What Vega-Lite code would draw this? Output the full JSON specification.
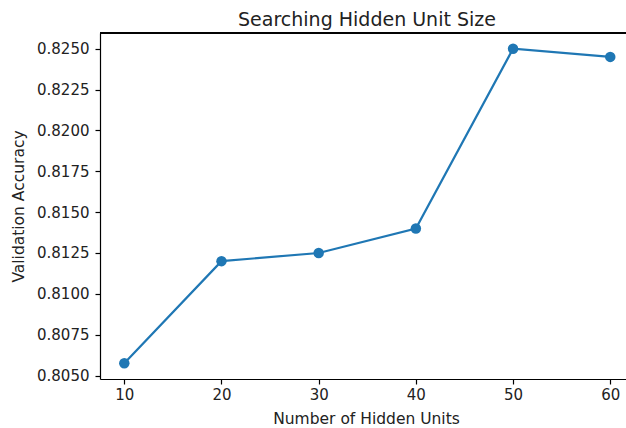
{
  "$schema": "https://vega.github.io/schema/vega-lite/v6.json",
  "autosize": {"type": "none"},
  "width": 526,
  "height": 346,
  "padding": {"left": 100, "top": 33, "right": 0, "bottom": 49},
  "background": "white",
  "config": {
    "view": {"stroke": null},
    "font": "DejaVu Sans",
    "axis": {
      "grid": false,
      "domainColor": "black",
      "domainWidth": 1.2,
      "tickColor": "black",
      "tickWidth": 1.2,
      "tickSize": 5,
      "labelFont": "DejaVu Sans",
      "labelFontSize": 15,
      "labelColor": "#222",
      "titleFont": "DejaVu Sans",
      "titleFontSize": 15.5,
      "titleFontWeight": "normal",
      "titleColor": "#222"
    }
  },
  "title": {
    "text": "Searching Hidden Unit Size",
    "font": "DejaVu Sans",
    "fontSize": 19,
    "fontWeight": "normal",
    "color": "#222",
    "anchor": "middle",
    "baseline": "alphabetic",
    "offset": 10,
    "dx": 4,
    "dy": 23
  },
  "data": {
    "values": [
      {"units": 10, "acc": 0.80575},
      {"units": 20, "acc": 0.8120},
      {"units": 30, "acc": 0.8125},
      {"units": 40, "acc": 0.8140},
      {"units": 50, "acc": 0.8250},
      {"units": 60, "acc": 0.8245}
    ]
  },
  "layer": [
    {
      "mark": {"type": "rule", "color": "black", "strokeWidth": 1.2},
      "encoding": {
        "y": {"datum": 0.8259625, "type": "quantitative"}
      }
    },
    {
      "mark": {"type": "line", "color": "#1f77b4", "strokeWidth": 2.2},
      "encoding": {
        "x": {
          "field": "units",
          "type": "quantitative",
          "scale": {"domain": [7.5, 61.62], "nice": false, "zero": false},
          "axis": {
            "values": [10, 20, 30, 40, 50, 60],
            "title": "Number of Hidden Units",
            "labelPadding": 3,
            "titleX": 266,
            "titleY": 44,
            "titleAlign": "center",
            "titleBaseline": "alphabetic"
          }
        },
        "y": {
          "field": "acc",
          "type": "quantitative",
          "scale": {"domain": [0.8047875, 0.8259625], "nice": false, "zero": false},
          "axis": {
            "values": [0.805, 0.8075, 0.81, 0.8125, 0.815, 0.8175, 0.82, 0.8225, 0.825],
            "format": ".4f",
            "title": "Validation Accuracy",
            "labelPadding": 6,
            "titleX": -77,
            "titleY": 173,
            "titleAngle": -90,
            "titleAlign": "center",
            "titleBaseline": "alphabetic"
          }
        }
      }
    },
    {
      "mark": {"type": "point", "filled": true, "opacity": 1, "color": "#1f77b4", "size": 110},
      "encoding": {
        "x": {"field": "units", "type": "quantitative"},
        "y": {"field": "acc", "type": "quantitative"}
      }
    }
  ]
}
